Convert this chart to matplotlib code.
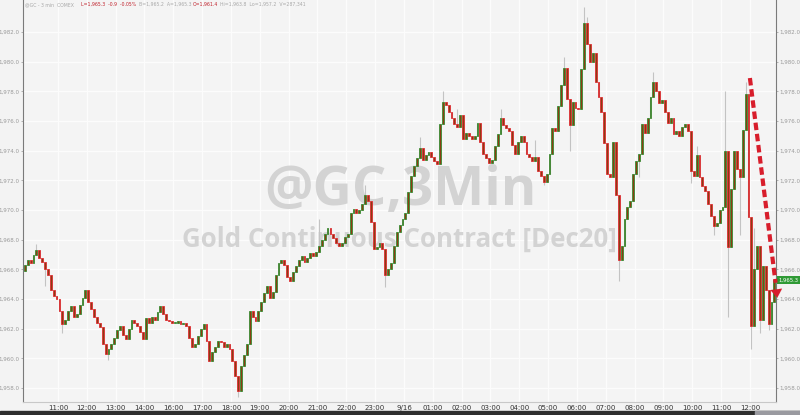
import matplotlib
matplotlib.use("Agg")
import matplotlib.pyplot as plt
import numpy as np
from matplotlib.ticker import FuncFormatter
from matplotlib.patches import Rectangle

# ---------------- data: 6-minute closes, one list per trading hour ----------------
first_open = 1965.9
pre_11 = [1966.3, 1966.6, 1966.4, 1967.0, 1967.3, 1966.8, 1966.5, 1966.0, 1965.6, 1964.6, 1964.2, 1964.0]
h11 = [1963.2, 1962.3, 1962.6, 1963.2, 1963.5, 1962.8, 1963.0, 1963.6, 1964.1, 1964.6]
h12 = [1963.8, 1963.3, 1962.8, 1962.4, 1962.1, 1961.0, 1960.3, 1960.6, 1961.0, 1961.4]
h13 = [1961.9, 1962.2, 1961.6, 1961.3, 1962.0, 1962.6, 1962.4, 1962.2, 1961.8, 1961.3]
h14 = [1962.7, 1962.4, 1962.8, 1962.6, 1963.1, 1963.5, 1963.0, 1962.6, 1962.5, 1962.4]
h16 = [1962.4, 1962.5, 1962.3, 1962.4, 1962.2, 1961.4, 1960.8, 1961.0, 1961.5, 1962.0]
h17 = [1962.3, 1961.2, 1959.8, 1960.4, 1960.8, 1961.2, 1961.1, 1960.8, 1961.0, 1960.6]
h18 = [1959.8, 1958.8, 1957.8, 1959.5, 1960.2, 1961.0, 1963.2, 1962.8, 1962.5, 1963.2]
h19 = [1963.8, 1964.4, 1964.9, 1964.1, 1964.5, 1965.6, 1966.4, 1966.6, 1966.3, 1965.5]
h20 = [1965.2, 1965.8, 1966.2, 1966.6, 1966.9, 1966.5, 1966.8, 1967.1, 1966.9, 1967.2]
h21 = [1967.6, 1968.0, 1968.4, 1968.8, 1968.4, 1968.1, 1967.8, 1967.6, 1967.8, 1968.2]
h22 = [1968.4, 1969.8, 1970.1, 1969.8, 1970.0, 1970.4, 1971.0, 1970.6, 1969.2, 1967.4]
h23 = [1967.5, 1967.8, 1967.4, 1965.6, 1966.0, 1966.4, 1967.6, 1968.5, 1969.0, 1969.4]
h00 = [1969.8, 1971.2, 1972.3, 1973.0, 1973.5, 1974.2, 1973.4, 1973.7, 1973.9, 1973.6]
h01 = [1973.3, 1973.1, 1975.8, 1977.3, 1977.1, 1976.6, 1976.2, 1975.8, 1975.6, 1976.4]
h02 = [1974.8, 1975.2, 1975.0, 1974.8, 1975.0, 1975.9, 1974.6, 1973.8, 1973.5, 1973.2]
h03 = [1973.4, 1974.3, 1975.1, 1976.2, 1975.7, 1975.5, 1975.3, 1974.4, 1973.8, 1974.6]
h04 = [1975.0, 1974.6, 1973.8, 1973.6, 1973.3, 1973.6, 1972.6, 1972.3, 1971.9, 1972.4]
h05 = [1973.8, 1975.5, 1975.3, 1977.0, 1978.4, 1979.6, 1977.5, 1975.7, 1977.3, 1976.9]
h06 = [1976.8, 1979.5, 1982.6, 1981.2, 1980.0, 1980.6, 1978.6, 1977.6, 1976.6, 1974.5]
h07 = [1972.4, 1972.2, 1974.6, 1971.0, 1966.6, 1967.6, 1969.4, 1970.2, 1970.6, 1972.4]
h08 = [1973.3, 1973.8, 1975.8, 1975.2, 1976.2, 1977.6, 1978.6, 1978.0, 1977.2, 1977.4]
h09 = [1976.6, 1975.9, 1976.2, 1975.1, 1975.3, 1975.0, 1975.6, 1975.8, 1975.3, 1972.6]
h10 = [1972.3, 1973.7, 1972.2, 1971.6, 1971.3, 1970.4, 1969.6, 1968.9, 1969.1, 1970.0]
h11b = [1970.2, 1974.0, 1967.5, 1971.4, 1974.0, 1972.8, 1972.2, 1975.4, 1977.8, 1969.5]
h12b = [1962.2, 1966.0, 1967.6, 1962.6, 1966.2, 1964.6, 1962.3, 1963.8, 1965.3]

# notable wick extremes (bar index, price)
hi_bar = [4, 102, 118, 137, 145, 150, 165, 177, 187, 194, 195, 218, 233, 243, 250, 253]
hi_val = [1967.7, 1969.4, 1971.7, 1974.9, 1978.0, 1976.8, 1976.8, 1974.7, 1980.3, 1983.7,
          1983.0, 1979.3, 1974.3, 1978.0, 1978.6, 1968.8]
lo_bar = [7, 13, 29, 74, 125, 180, 189, 206, 213, 231, 239, 244, 248, 252, 255, 258]
lo_val = [1964.9, 1961.7, 1959.9, 1957.4, 1964.8, 1971.7, 1974.0, 1965.2, 1972.2, 1971.8,
          1968.3, 1962.8, 1968.3, 1960.6, 1961.7, 1961.9]

x_labels = ["11:00", "12:00", "13:00", "14:00", "16:00", "17:00", "18:00", "19:00", "20:00",
            "21:00", "22:00", "23:00", "9/16", "01:00", "02:00", "03:00", "04:00", "05:00",
            "06:00", "07:00", "08:00", "09:00", "10:00", "11:00", "12:00"]
y_ticks = [1958.0, 1960.0, 1962.0, 1964.0, 1966.0, 1968.0, 1970.0, 1972.0, 1974.0,
           1976.0, 1978.0, 1980.0, 1982.0]
last_price = 1965.3
arrow_from = (24.0, 1978.9)
arrow_to = (24.96, 1963.9)

# ---------------- build OHLC ----------------
rows = [pre_11, h11, h12, h13, h14, h16, h17, h18, h19, h20, h21, h22, h23, h00, h01, h02,
        h03, h04, h05, h06, h07, h08, h09, h10, h11b, h12b]
closes = np.concatenate([np.array(r, float) for r in rows])
n = len(closes)
opens = np.concatenate([[first_open], closes[:-1]])
highs = np.maximum(opens, closes)
lows = np.minimum(opens, closes)
for b, v in zip(hi_bar, hi_val):
    highs[b] = max(highs[b], v)
for b, v in zip(lo_bar, lo_val):
    lows[b] = min(lows[b], v)
pos = -1.15 + 0.1 * np.arange(n)   # trading-hour position, 0 = 11:00

# ---------------- figure ----------------
W, H = 800, 415
fig = plt.figure(figsize=(W / 100, H / 100), dpi=100, facecolor="#f3f3f3")
ax = fig.add_axes([23 / W, (H - 402) / H, (776 - 23) / W, 402 / H])
ax.set_facecolor("#f4f4f4")
ax.set_xlim(-1.214, 24.905)
ax.set_ylim(1957.06, 1984.16)

ax.set_axisbelow(True)
ax.grid(True, color="#fcfcfc", lw=0.9)

up = closes >= opens
edge = np.where(up, "#2b8c2b", "#e3232b")
ax.vlines(pos, lows, highs, color="#c3c3c3", lw=0.8, zorder=2)
body_h = np.maximum(np.abs(closes - opens), 0.06)
ax.bar(pos, body_h, bottom=np.minimum(opens, closes), width=0.065,
       color="#8a3d12", edgecolor=edge, linewidth=0.55, zorder=3)

# watermarks
ax.text((400 - 23) / 753, 1 - 205 / 402, "@GC,3Min", transform=ax.transAxes,
        ha="center", va="baseline", fontsize=39, fontweight="bold",
        family="Open Sans", color="#d3d3d3", zorder=1)
ax.text((399 - 23) / 753, 1 - 247 / 402, "Gold Continuous Contract [Dec20]",
        transform=ax.transAxes, ha="center", va="baseline", fontsize=18.6,
        fontweight="bold", family="Open Sans", color="#d3d3d3", zorder=1)

# axes styling
ax.spines["top"].set_visible(False)
ax.spines["left"].set_color("#7a7a7a")
ax.spines["right"].set_color("#7a7a7a")
ax.spines["bottom"].set_color("#c8c8c8")
ax.spines["left"].set_linewidth(0.8)
ax.spines["right"].set_linewidth(0.8)

ax.set_yticks(y_ticks)
ax.yaxis.set_major_formatter(FuncFormatter(lambda v, p: f"{v:,.1f}"))
ax.tick_params(axis="y", left=True, right=True, labelleft=True, labelright=True,
               labelsize=4.0, labelcolor="#9a9a9a", length=1.5, width=0.5,
               color="#999999", pad=1)
ax.set_xticks(np.arange(len(x_labels)))
ax.set_xticklabels(x_labels)
ax.tick_params(axis="x", length=0, labelsize=5, labelcolor="#333333", pad=2.5)

# last price tag
ax.annotate(f"{last_price:,.1f}", xy=(1.0, last_price), xycoords=("axes fraction", "data"),
            xytext=(2.0, 0), textcoords="offset points", ha="left", va="center",
            fontsize=3.8, color="white",
            bbox=dict(boxstyle="square,pad=0.3", fc="#2f9a35", ec="none"),
            annotation_clip=False, zorder=6)

# red dashed arrow
ax.plot([arrow_from[0], arrow_to[0] - 0.07], [arrow_from[1], arrow_to[1] + 1.2],
        color="#d81e2c", lw=3, ls=(0, (1.8, 0.9)), clip_on=False, zorder=7,
        solid_capstyle="butt", dash_capstyle="butt")
ax.annotate("", xy=arrow_to, xytext=(arrow_to[0] - 0.1, arrow_to[1] + 1.6),
            arrowprops=dict(arrowstyle="-|>,head_length=0.5,head_width=0.35",
                            color="#d81e2c", lw=0.1, mutation_scale=12),
            annotation_clip=False, zorder=8)

# header line
hdr_y = 1 - 4.5 / H
parts = [(25, "@GC - 3 min  COMEX", "#a8a8a8"),
         (81, "L=1,965.3  -0.9  -0.05%", "#c0202a"),
         (139, "B=1,965.2  A=1,965.3", "#a8a8a8"),
         (193, "O=1,961.4", "#c0202a"),
         (220, "Hi=1,963.8  Lo=1,957.2  V=287,341", "#a8a8a8")]
for x0, t, c in parts:
    fig.text(x0 / W, hdr_y, t, fontsize=3.3, color=c, va="center", ha="left")

# bottom dark strip
fig.patches.append(Rectangle((0, 0), 1, 4 / H, transform=fig.transFigure,
                             color="#2e2e2e", zorder=10))
fig.patches.append(Rectangle((755 / W, 0), 45 / W, 4 / H, transform=fig.transFigure,
                             color="#9a9aa0", zorder=11))

fig.savefig("out.png", dpi=100, facecolor=fig.get_facecolor())
